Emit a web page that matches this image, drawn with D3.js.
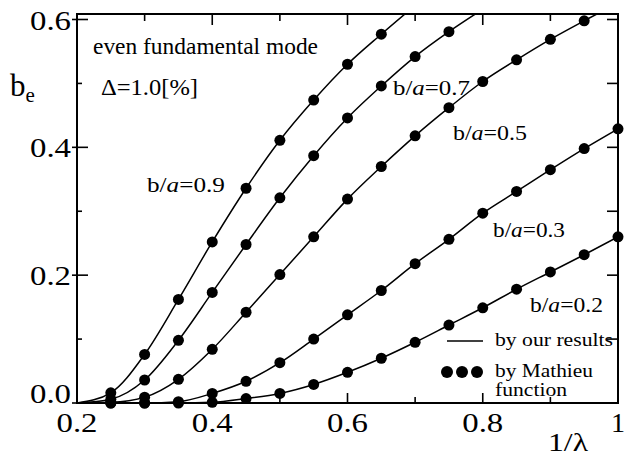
<!DOCTYPE html>
<html>
<head>
<meta charset="utf-8">
<script src="https://cdn.jsdelivr.net/npm/d3@7/dist/d3.min.js"></script>
<style>
  html, body { margin: 0; padding: 0; background: #fff; }
  svg { display: block; }
</style>
</head>
<body>
<svg id="chart" width="629" height="459" font-family="'Liberation Serif', 'Times New Roman', Times, serif"></svg>
<script>
// 1/lambda sample positions of the Mathieu-function points
const invLambda = [0.25, 0.30, 0.35, 0.40, 0.45, 0.50, 0.55, 0.60, 0.65, 0.70, 0.75, 0.80, 0.85, 0.90, 0.95, 1.00];
// curves start from cutoff at 1/lambda = 0.2
const cutoffX = 0.2;
const cutoffY = 0;

// normalized propagation constant b_e for each b/a
const be09 = [0.016, 0.076, 0.162, 0.252, 0.336, 0.411, 0.474, 0.530, 0.577, 0.622, null, null, null, null, null, null];
const be07 = [0.006, 0.036, 0.098, 0.173, 0.248, 0.321, 0.387, 0.446, 0.496, 0.542, 0.581, 0.616, null, null, null, null];
const be05 = [0.001, 0.009, 0.037, 0.084, 0.142, 0.201, 0.260, 0.319, 0.370, 0.418, 0.462, 0.503, 0.537, 0.569, 0.598, 0.626];
const be03 = [0.000, 0.000, 0.002, 0.015, 0.034, 0.063, 0.100, 0.138, 0.176, 0.218, 0.256, 0.297, 0.331, 0.365, 0.398, 0.429];
const be02 = [0.000, 0.000, 0.000, 0.001, 0.007, 0.015, 0.029, 0.048, 0.070, 0.095, 0.122, 0.149, 0.178, 0.205, 0.232, 0.260];

const seriesNames = ["0.9", "0.7", "0.5", "0.3", "0.2"];
const seriesValues = [be09, be07, be05, be03, be02];

const xTicksMajor = [0.2, 0.4, 0.6, 0.8, 1.0];
const xTickLabels = ["0.2", "0.4", "0.6", "0.8", "1"];
const xTicksMinor = [0.3, 0.5, 0.7, 0.9];
const yTicksMajor = [0.0, 0.2, 0.4, 0.6];
const yTickLabels = ["0.0", "0.2", "0.4", "0.6"];
const yTicksMinor = [0.1, 0.3, 0.5];

(function draw() {
const svg = d3.select("#chart");
const pL = 77, pR = 618, pB = 403, pT = 14;

const x = d3.scaleLinear().domain([0.2, 1.0]).range([pL, pR]);
const y = d3.scaleLinear().domain([0, 0.6]).range([pB, 19.5]);

// plot-area clip for the curves
svg.append("defs").append("clipPath").attr("id", "plotClip")
  .append("rect").attr("x", pL).attr("y", pT).attr("width", pR - pL).attr("height", pB - pT);

// frame
svg.append("rect")
  .attr("x", pL).attr("y", pT)
  .attr("width", pR - pL).attr("height", pB - pT)
  .attr("fill", "none").attr("stroke", "#000").attr("stroke-width", 2);

const tickG = svg.append("g").attr("stroke", "#000").attr("stroke-width", 1.6);
// bottom ticks (inward)
xTicksMajor.slice(1, -1).forEach(v => tickG.append("line").attr("x1", x(v)).attr("x2", x(v)).attr("y1", pB).attr("y2", pB - 10));
xTicksMinor.forEach(v => tickG.append("line").attr("x1", x(v)).attr("x2", x(v)).attr("y1", pB).attr("y2", pB - 6));
// top ticks (inward)
xTicksMajor.slice(1, -1).forEach(v => tickG.append("line").attr("x1", x(v)).attr("x2", x(v)).attr("y1", pT).attr("y2", pT + 11));
xTicksMinor.forEach(v => tickG.append("line").attr("x1", x(v)).attr("x2", x(v)).attr("y1", pT).attr("y2", pT + 7));
// left ticks (crossing majors, inward minors)
yTicksMajor.forEach(v => tickG.append("line").attr("x1", pL - 5).attr("x2", pL + 11).attr("y1", y(v)).attr("y2", y(v)));
yTicksMinor.forEach(v => tickG.append("line").attr("x1", pL).attr("x2", pL + 5).attr("y1", y(v)).attr("y2", y(v)));
// right ticks (inward)
yTicksMajor.slice(1).concat(yTicksMinor).forEach(v => tickG.append("line").attr("x1", pR).attr("x2", pR - 11).attr("y1", y(v)).attr("y2", y(v)));

// tick labels
svg.append("g").selectAll("text").data(xTicksMajor).join("text")
  .attr("x", d => x(d)).attr("y", 432)
  .attr("text-anchor", "middle").attr("font-size", 28)
  .attr("textLength", (d, i) => xTickLabels[i].length > 1 ? 41 : null)
  .attr("lengthAdjust", "spacingAndGlyphs")
  .text((d, i) => xTickLabels[i]);
svg.append("g").selectAll("text").data(yTicksMajor).join("text")
  .attr("x", 71).attr("y", d => d === 0 ? y(d) : y(d) + 10)
  .attr("text-anchor", "end").attr("font-size", 28)
  .attr("textLength", 41).attr("lengthAdjust", "spacingAndGlyphs")
  .text((d, i) => yTickLabels[i]);

// axis titles
const beLabel = svg.append("text").attr("x", 10).attr("y", 96).attr("font-size", 31);
beLabel.append("tspan").text("b");
beLabel.append("tspan").attr("font-size", 21).attr("dy", 6).text("e");
svg.append("text").attr("x", 548).attr("y", 451).attr("font-size", 25)
  .attr("textLength", 40).attr("lengthAdjust", "spacingAndGlyphs").text("1/λ");

// curves and points
const line = d3.line()
  .defined(d => d[1] !== null)
  .x(d => x(d[0])).y(d => y(d[1]))
  .curve(d3.curveMonotoneX);

const curvesG = svg.append("g").attr("clip-path", "url(#plotClip)");
const dotsG = svg.append("g");
seriesValues.forEach(vals => {
  const pts = [[cutoffX, cutoffY]].concat(invLambda.map((v, i) => [v, vals[i]]));
  curvesG.append("path").datum(pts)
    .attr("d", line).attr("fill", "none").attr("stroke", "#000").attr("stroke-width", 1.5);
  dotsG.selectAll(null).data(pts.slice(1).filter(d => d[1] !== null && d[1] <= 0.6)).join("circle")
    .attr("cx", d => x(d[0])).attr("cy", d => y(d[1])).attr("r", 5.5).attr("fill", "#000");
});

// annotations
svg.append("text").attr("x", 93).attr("y", 54).attr("font-size", 23)
  .attr("textLength", 225).attr("lengthAdjust", "spacingAndGlyphs").text("even fundamental mode");
svg.append("text").attr("x", 101).attr("y", 95).attr("font-size", 23)
  .attr("textLength", 97).attr("lengthAdjust", "spacingAndGlyphs").text("Δ=1.0[%]");

const ratioLabels = [
  { name: seriesNames[0], x: 147, y: 192, w: 78 },
  { name: seriesNames[1], x: 393, y: 95, w: 77 },
  { name: seriesNames[2], x: 453, y: 140, w: 74 },
  { name: seriesNames[3], x: 493, y: 237, w: 72 },
  { name: seriesNames[4], x: 530, y: 312, w: 73 }
];
ratioLabels.forEach(l => {
  const t = svg.append("text").attr("x", l.x).attr("y", l.y).attr("font-size", 22)
    .attr("textLength", l.w).attr("lengthAdjust", "spacingAndGlyphs");
  t.append("tspan").text("b/");
  t.append("tspan").attr("font-style", "italic").text("a");
  t.append("tspan").text("=" + l.name);
});

// legend
svg.append("line").attr("x1", 447).attr("x2", 483).attr("y1", 341).attr("y2", 341).attr("stroke", "#000").attr("stroke-width", 1.5);
svg.append("text").attr("x", 495).attr("y", 346).attr("font-size", 19)
  .attr("textLength", 118).attr("lengthAdjust", "spacingAndGlyphs").text("by our results");
[447, 462, 477].forEach(cx => svg.append("circle").attr("cx", cx).attr("cy", 372).attr("r", 6).attr("fill", "#000"));
svg.append("text").attr("x", 495).attr("y", 377).attr("font-size", 19)
  .attr("textLength", 98).attr("lengthAdjust", "spacingAndGlyphs").text("by Mathieu");
svg.append("text").attr("x", 495).attr("y", 396).attr("font-size", 19)
  .attr("textLength", 72).attr("lengthAdjust", "spacingAndGlyphs").text("function");
})();
</script>
</body>
</html>
